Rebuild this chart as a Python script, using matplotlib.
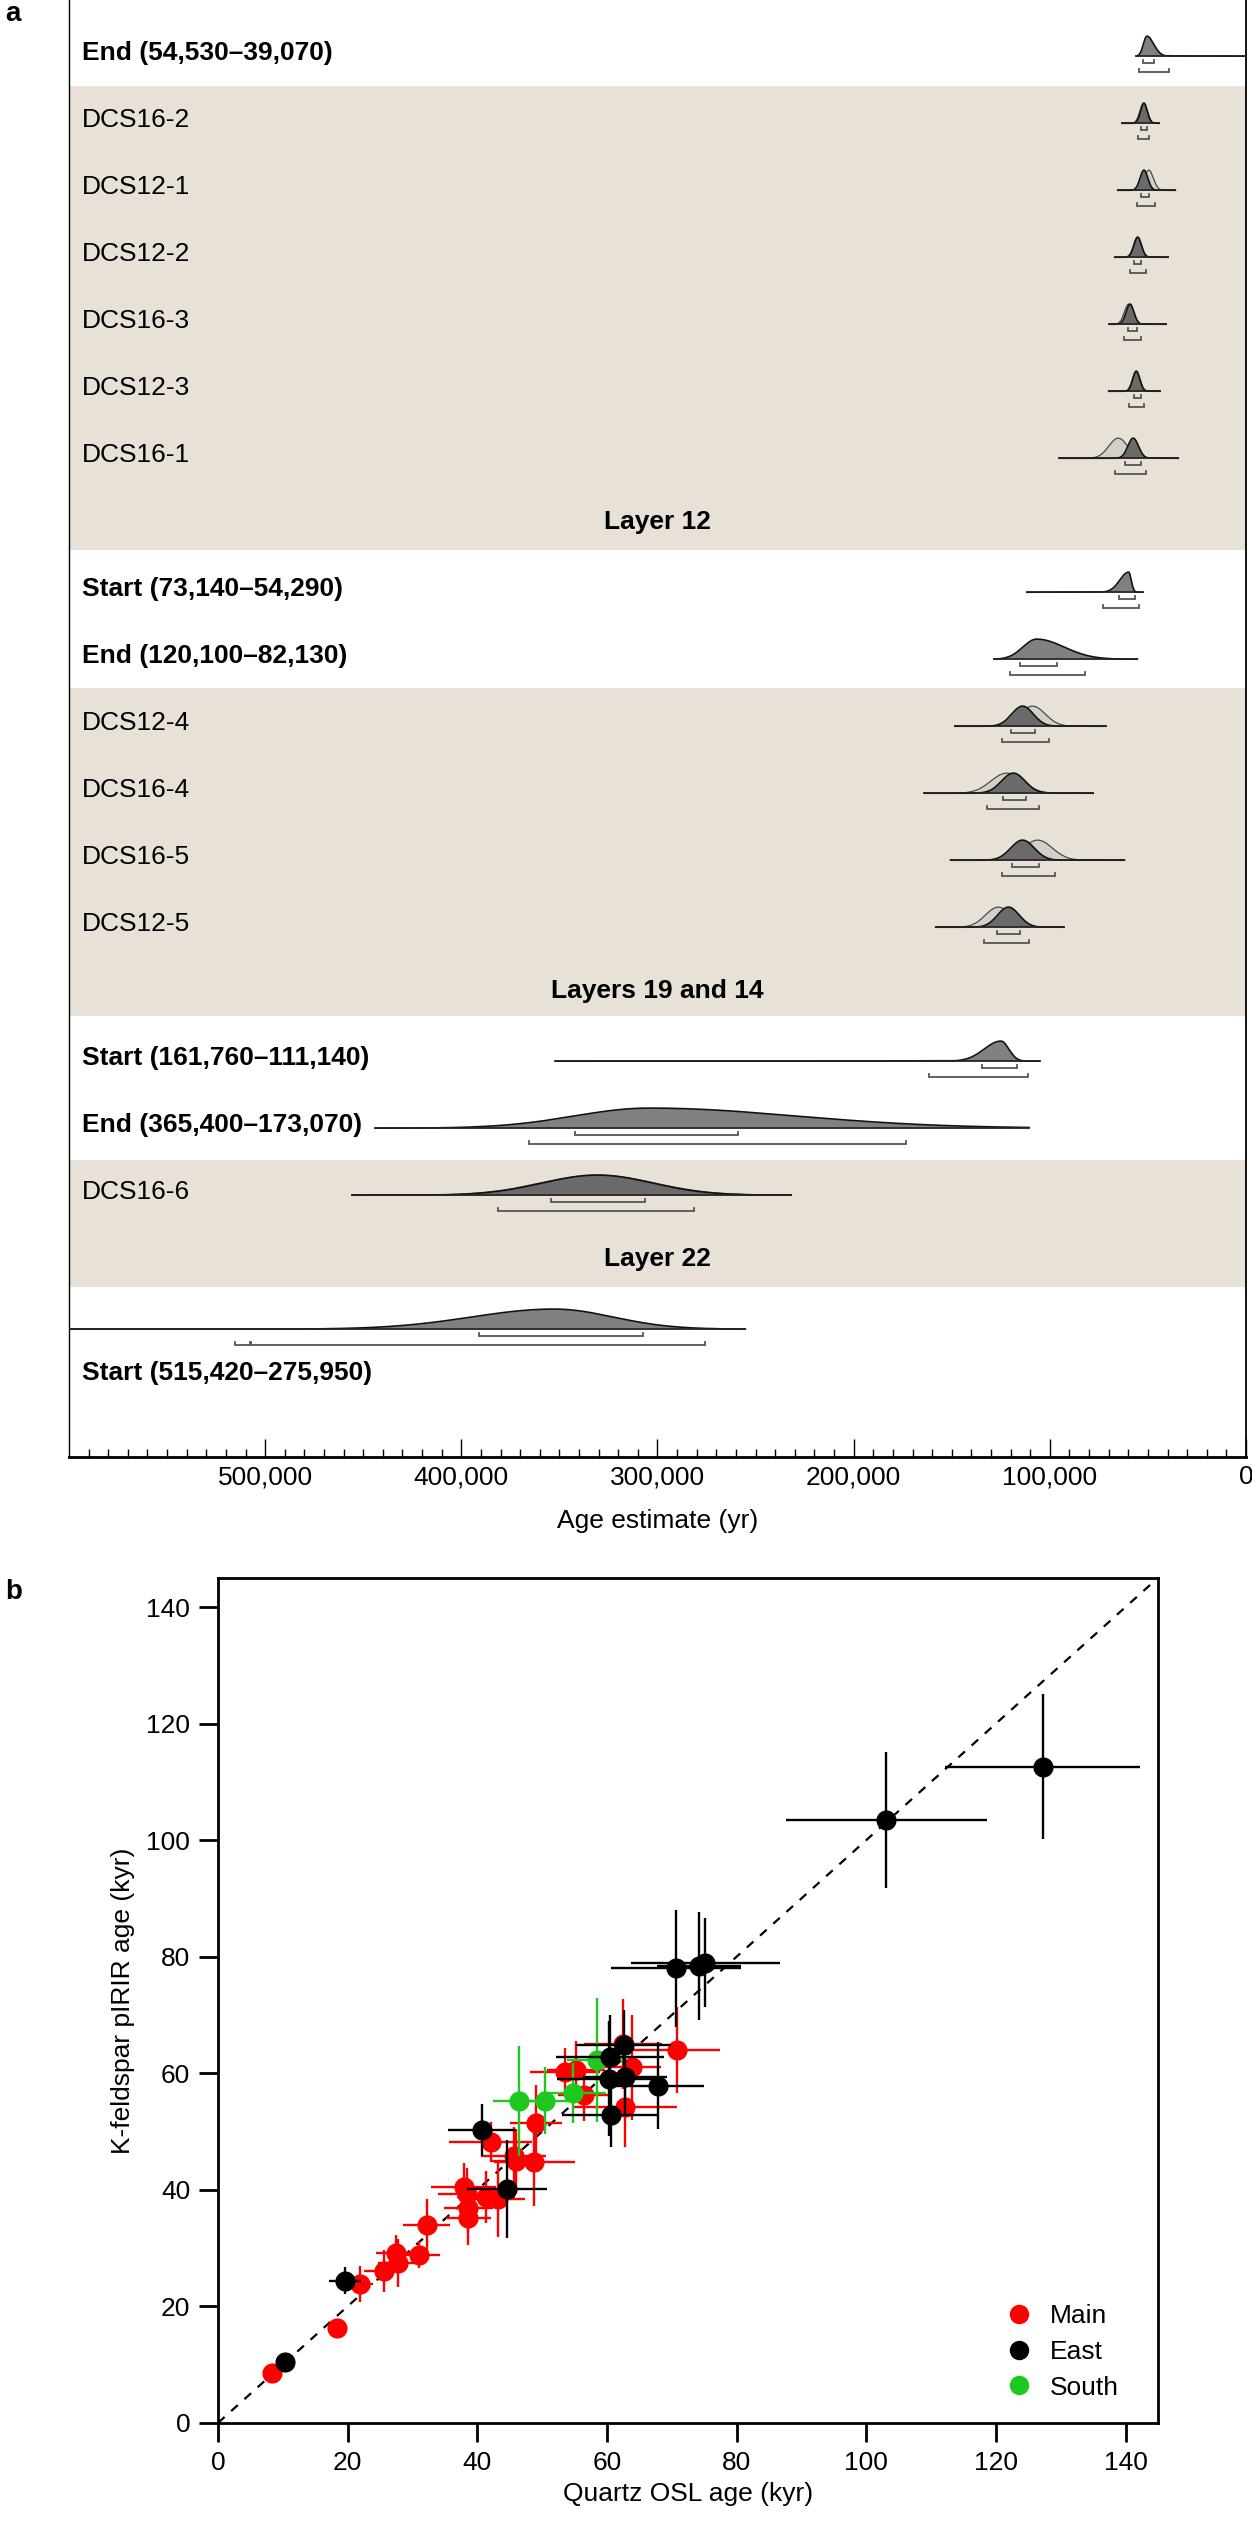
import matplotlib
matplotlib.use("Agg")
import matplotlib.pyplot as plt
from matplotlib.lines import Line2D
from matplotlib.ticker import FuncFormatter
import numpy as np

plt.rcParams['font.family'] = ['Liberation Sans', 'DejaVu Sans']

# ---------------- panel a data (years, older = larger) ----------------
bnd_labels = ["End (54,530–39,070)", "Start (73,140–54,290)", "End (120,100–82,130)",
              "Start (161,760–111,140)", "End (365,400–173,070)", "Start (515,420–275,950)"]
bnd_rows = [0, 8, 9, 15, 16, 19]
bnd_peak = [50500, 59800, 106700, 124900, 304400, 352700]
bnd_sd_old = [1800, 4500, 7000, 8500, 38000, 42000]
bnd_sd_young = [3500, 1300, 14000, 4000, 75000, 30000]
bnd_tail_amp = [0.04, 0.05, 0.0, 0.04, 0.0, 0.02]
bnd_tail_scale = [20000, 12000, 1, 50000, 1, 60000]
bnd_tail_old = [False, True, False, True, False, True]
bnd_span = [(56000, 0), (111650, 52700), (128500, 55400), (352000, 105200),
            (443900, 110600), (600000, 255200)]
bnd_r68 = [[(52500, 46900)], [(64700, 56600)], [(115000, 96500)], [(134500, 116700)],
           [(342000, 259000)], [(390800, 307300)]]
bnd_r95 = [[(54530, 39070)], [(73140, 54290)], [(120100, 82130)], [(161760, 111140)],
           [(365400, 173070)], [(515420, 507600), (507200, 275950)]]

smp_labels = ["DCS16-2", "DCS12-1", "DCS12-2", "DCS16-3", "DCS12-3", "DCS16-1",
              "DCS12-4", "DCS16-4", "DCS16-5", "DCS12-5", "DCS16-6"]
smp_rows = [1, 2, 3, 4, 5, 6, 10, 11, 12, 13, 17]
post_mu = [52000, 52000, 55200, 59100, 55900, 57500, 113900, 118600, 113900, 121100, 330600]
post_sd = [1700, 2000, 1900, 2000, 1800, 2700, 5500, 6000, 6000, 5500, 28000]
lik_mu = [52200, 49500, 55300, 59800, 56000, 65100, 108800, 122000, 106200, 126300, 330600]
lik_sd = [1900, 2300, 2000, 2200, 1900, 4800, 6500, 8000, 7500, 6500, 29000]
smp_span = [(63200, 44350), (65400, 36000), (66900, 39760), (69700, 40800), (70000, 43840),
            (95200, 34500), (148400, 71400), (164000, 77900), (150600, 62000),
            (158200, 92900), (455700, 231800)]
smp_r68 = [(53700, 50640), (53700, 49300), (57000, 53400), (60200, 55700), (56900, 53700),
           (61500, 53700), (119700, 107400), (124100, 112200), (119300, 105700),
           (126900, 115100), (354100, 306200)]
smp_r95 = [(55200, 49300), (55700, 46550), (59000, 51140), (62200, 53700), (59500, 52000),
           (66900, 50980), (124600, 100300), (131800, 105500), (124600, 97400),
           (133300, 110600), (381100, 281300)]

layer_labels = ["Layer 12", "Layers 19 and 14", "Layer 22"]
layer_rows = [7, 14, 18]
band_spans = [(0.5, 7.42), (9.48, 14.37), (16.52, 18.42)]

# ---------------- panel b data (kyr) ----------------
main_x = [8.4, 18.4, 21.9, 25.6, 27.5, 27.7, 31.0, 32.2, 38.6, 38.6, 37.9, 38.4, 41.3,
          43.2, 42.1, 45.6, 46.0, 48.8, 49.0, 53.6, 55.2, 56.5, 63.9, 62.8, 62.5, 70.8]
main_y = [8.5, 16.3, 23.8, 26.1, 29.2, 27.4, 28.9, 33.9, 35.1, 36.8, 40.4, 39.3, 38.8,
          38.4, 48.2, 45.8, 44.9, 44.8, 51.4, 60.3, 60.5, 56.3, 61.0, 54.2, 65.0, 64.0]
main_xerr = [0.5, 0.8, 2.0, 3.0, 3.2, 3.0, 3.2, 3.6, 3.5, 3.8, 5.0, 4.5, 4.5,
             4.2, 6.4, 5.0, 4.0, 6.2, 4.0, 5.4, 4.5, 4.0, 4.5, 8.0, 6.0, 6.6]
main_yerr = [0.5, 0.8, 3.1, 3.6, 3.0, 4.1, 2.4, 4.6, 4.6, 4.0, 4.2, 4.5, 4.5,
             6.5, 3.5, 5.0, 5.5, 7.6, 6.6, 4.0, 5.0, 4.5, 9.0, 6.9, 7.7, 7.4]

east_x = [10.3, 19.6, 40.7, 44.6, 60.6, 67.8, 60.3, 62.8, 60.5, 62.6, 70.7, 74.2, 75.2, 103.1, 127.2]
east_y = [10.5, 24.4, 50.3, 40.1, 52.8, 57.9, 59.1, 59.3, 62.8, 64.9, 78.0, 78.4, 79.0, 103.5, 112.6]
east_xerr = [0.5, 2.4, 5.2, 6.2, 7.5, 7.1, 8.0, 6.5, 8.3, 7.3, 10.0, 6.5, 11.5, 15.5, 15.0]
east_yerr = [0.5, 2.3, 4.5, 8.4, 5.5, 7.4, 9.9, 6.5, 7.2, 6.0, 10.0, 9.2, 7.6, 11.7, 12.4]

south_x = [46.5, 50.5, 54.8, 58.4]
south_y = [55.2, 55.3, 56.6, 62.3]
south_xerr = [4.0, 5.0, 5.0, 4.6]
south_yerr = [9.4, 5.7, 5.2, 10.6]

fig = plt.figure(figsize=(12.52, 25.21), dpi=100)

# ================= panel a =================
ax = fig.add_axes([0.0551, 0.4220, 0.9401, 0.5780])
ax.set_xlim(600000, 0)
ax.set_ylim(20.96, -0.79)

band_color = '#e7e1d7'
for lo, hi in band_spans:
    ax.axhspan(lo, hi, color=band_color, lw=0, zorder=0)

H = 0.30
def bracket(lo, hi, y):
    ax.plot([lo, lo, hi, hi], [y - 0.045, y, y, y - 0.045], color='#555555', lw=1.3,
            solid_joinstyle='miter', zorder=4)

for i in range(len(bnd_rows)):
    base = bnd_rows[i] + 0.05
    x = np.linspace(bnd_span[i][1], bnd_span[i][0], 1500)
    sd = np.where(x > bnd_peak[i], bnd_sd_old[i], bnd_sd_young[i])
    d = np.exp(-0.5 * ((x - bnd_peak[i]) / sd) ** 2)
    if bnd_tail_amp[i] > 0:
        side = (x > bnd_peak[i]) if bnd_tail_old[i] else (x < bnd_peak[i])
        tail = bnd_tail_amp[i] * np.exp(-np.abs(x - bnd_peak[i]) / bnd_tail_scale[i])
        d = np.where(side, np.maximum(d, tail), d)
    d = d / d.max()
    ax.fill_between(x, base, base - H * d, color='#808080', lw=0, zorder=2)
    ax.plot(x, base - H * d, color='#111111', lw=1.2, zorder=3)
    ax.plot(bnd_span[i], [base, base], color='#222222', lw=1.2, zorder=3)
    for lo, hi in bnd_r68[i]:
        bracket(lo, hi, base + 0.10)
    for lo, hi in bnd_r95[i]:
        bracket(lo, hi, base + 0.23)
    ly = bnd_rows[i] + 0.7 if bnd_rows[i] == 19 else bnd_rows[i]
    ax.text(0.011, ly, bnd_labels[i], transform=ax.get_yaxis_transform(),
            fontsize=19, fontweight='bold', va='center', ha='left')

for i in range(len(smp_rows)):
    base = smp_rows[i] + 0.05
    x = np.linspace(smp_span[i][1], smp_span[i][0], 1500)
    dl = np.exp(-0.5 * ((x - lik_mu[i]) / lik_sd[i]) ** 2)
    dp = np.exp(-0.5 * ((x - post_mu[i]) / post_sd[i]) ** 2)
    ax.fill_between(x, base, base - H * dl, color='#d3d0c9', lw=0, zorder=2)
    ax.plot(x, base - H * dl, color='#4a4a4a', lw=0.9, zorder=2)
    ax.fill_between(x, base, base - H * dp, color='#6a6a6a', lw=0, zorder=2)
    ax.plot(x, base - H * dp, color='#111111', lw=1.2, zorder=3)
    ax.plot(smp_span[i], [base, base], color='#222222', lw=1.2, zorder=3)
    bracket(*smp_r68[i], base + 0.10)
    bracket(*smp_r95[i], base + 0.23)
    ax.text(0.011, smp_rows[i], smp_labels[i], transform=ax.get_yaxis_transform(),
            fontsize=19, va='center', ha='left')

for lab, r in zip(layer_labels, layer_rows):
    ax.text(0.5, r, lab, transform=ax.get_yaxis_transform(), fontsize=19,
            fontweight='bold', ha='center', va='center')

ax.set_yticks([])
ax.set_xticks(np.arange(0, 500001, 100000))
ax.set_xticks(np.arange(0, 600000, 10000), minor=True)
ax.xaxis.set_major_formatter(FuncFormatter(lambda v, p: f"{int(v):,}"))
ax.tick_params(axis='x', which='major', direction='in', length=13, width=1, labelsize=19, pad=6)
ax.tick_params(axis='x', which='minor', direction='in', length=6, width=1)
ax.spines['top'].set_visible(False)
ax.spines['bottom'].set_linewidth(2)
ax.spines['left'].set_linewidth(1)
ax.spines['right'].set_linewidth(1.3)
ax.set_xlabel('Age estimate (yr)', fontsize=19, labelpad=14)

# ================= panel b =================
bx = fig.add_axes([0.1741, 0.0389, 0.7508, 0.3352])
bx.set_xlim(0, 145)
bx.set_ylim(0, 145)
bx.plot([0, 144], [0, 144], ls=(0, (4, 4)), color='black', lw=1.6, zorder=1)

ekw = dict(fmt='o', ms=14.5, elinewidth=1.7, capsize=3.5, capthick=1.7, mew=0)
bx.errorbar(main_x, main_y, xerr=main_xerr, yerr=main_yerr, color='#ff0000', zorder=2, **ekw)
bx.errorbar(south_x, south_y, xerr=south_xerr, yerr=south_yerr, color='#1ec81e', zorder=3, **ekw)
bx.errorbar(east_x, east_y, xerr=east_xerr, yerr=east_yerr, color='black', zorder=4, **ekw)

bx.set_xticks(np.arange(0, 141, 20))
bx.set_yticks(np.arange(0, 141, 20))
bx.tick_params(direction='out', length=14, width=2, labelsize=19, pad=6)
for s in bx.spines.values():
    s.set_linewidth(2)
bx.set_xlabel('Quartz OSL age (kyr)', fontsize=19, labelpad=5)
bx.set_ylabel('K-feldspar pIRIR age (kyr)', fontsize=19, labelpad=8)

handles = [Line2D([], [], ls='none', marker='o', ms=14, mew=0, color=c)
           for c in ['#ff0000', 'black', '#1ec81e']]
bx.legend(handles, ['Main', 'East', 'South'], loc='lower right', frameon=False,
          fontsize=19, handletextpad=0.2, labelspacing=0.45, borderaxespad=0,
          bbox_to_anchor=(0.97, 0.015))

fig.text(0.004, 0.9945, 'a', fontsize=20, fontweight='bold', ha='left', va='center')
fig.text(0.004, 0.3685, 'b', fontsize=20, fontweight='bold', ha='left', va='center')

fig.savefig('out.png', dpi=100)
